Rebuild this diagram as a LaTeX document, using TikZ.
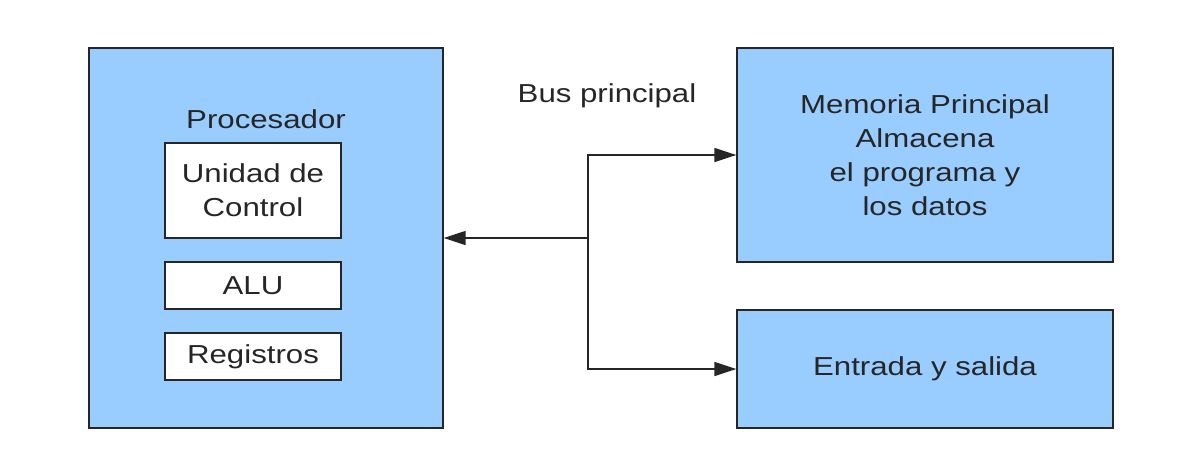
\documentclass[tikz,border=0pt]{standalone}
\usepackage{fontspec}
\setmainfont[FakeStretch=1.2]{Liberation Sans}
\usetikzlibrary{arrows.meta}
\definecolor{boxblue}{HTML}{99CCFF}
\begin{document}
\begin{tikzpicture}[x=1pt,y=-1pt,
  bluebox/.style={draw=black!85,line width=1.3pt,fill=boxblue,inner sep=0pt},
  whitebox/.style={draw=black!85,line width=1.3pt,fill=white,inner sep=0pt,minimum width=176pt},
  lbl/.style={font=\fontsize{26}{34}\selectfont,align=center,text=black!85},
  bus/.style={line width=1.5pt,draw=black!85,-{Triangle[length=22pt,width=14pt]}}]
\useasboundingbox (0,0) rectangle (1186,469);
\node[bluebox,minimum width=354pt,minimum height=380pt] (proc) at (266,238) {};
\node[lbl] (proclbl) at (266,119) {Procesador};
\node[whitebox,minimum height=95pt,lbl] (uc) at (253,190.5) {Unidad de\\Control};
\node[whitebox,minimum height=47pt,lbl] (alu) at (253,285.5) {ALU};
\node[whitebox,minimum height=47pt,lbl] (reg) at (253,356.5) {Registros};
\node[bluebox,minimum width=376pt,minimum height=214pt,lbl] (mem) at (925,155) {Memoria Principal\\Almacena\\el programa y\\los datos};
\node[bluebox,minimum width=376pt,minimum height=118pt,lbl] (es) at (925,369) {Entrada y salida};
\node[lbl] (buslbl) at (607,96) {Bus principal};
\coordinate (j) at (588,238);
\draw[bus] (j) -- (proc.east |- j);
\draw[bus] (j) |- (mem.west);
\draw[bus] (j) |- (es.west);
\end{tikzpicture}
\end{document}
